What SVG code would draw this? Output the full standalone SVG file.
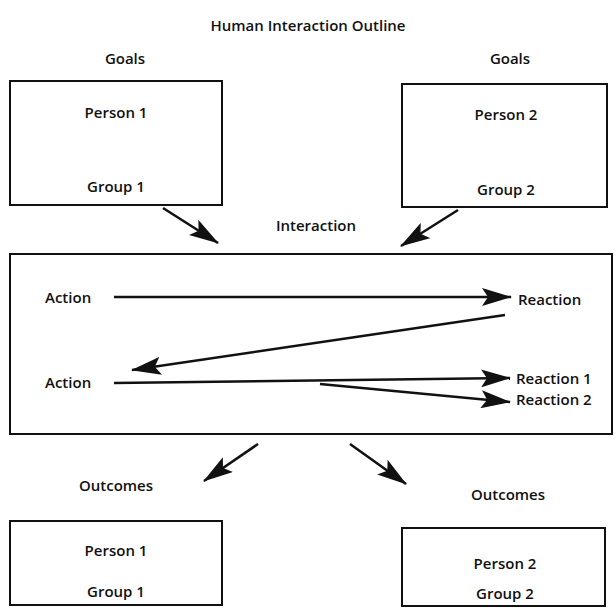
<svg xmlns="http://www.w3.org/2000/svg" width="615" height="608" viewBox="0 0 615 608">
  <style>
    text { font-family: "Open Sans", "Liberation Sans", sans-serif; font-size: 15px; font-weight: 600; fill: #111; }
    .mid { text-anchor: middle; }
    .box { fill: none; stroke: #111; stroke-width: 2; }
    .link { fill: none; stroke: #111; stroke-width: 2.5; marker-end: url(#head); }
  </style>
  <defs>
    <!-- large notched arrowhead, sized in user units -->
    <marker id="head" viewBox="0 0 30 18" refX="29" refY="9" markerWidth="30" markerHeight="18" markerUnits="userSpaceOnUse" orient="auto">
      <path d="M0,0 L30,9 L0,18 L6,9 Z" fill="#111"/>
    </marker>
  </defs>
  <rect width="615" height="608" fill="#fff"/>

  <text class="mid" x="308" y="31">Human Interaction Outline</text>

  <g id="goals1">
    <text class="mid" x="125" y="64">Goals</text>
    <rect class="box" x="10" y="81" width="212" height="124"/>
    <text class="mid" x="116" y="118">Person 1</text>
    <text class="mid" x="116" y="192">Group 1</text>
  </g>

  <g id="goals2">
    <text class="mid" x="510" y="64">Goals</text>
    <rect class="box" x="402" y="84" width="205" height="123"/>
    <text class="mid" x="506" y="120">Person 2</text>
    <text class="mid" x="506" y="195">Group 2</text>
  </g>

  <g id="interaction">
    <text class="mid" x="316" y="231">Interaction</text>
    <rect class="box" x="10" y="254" width="602" height="180"/>
    <text x="45" y="303">Action</text>
    <text x="518" y="305">Reaction</text>
    <text x="45" y="388">Action</text>
    <text x="516" y="384">Reaction 1</text>
    <text x="516" y="405">Reaction 2</text>
  </g>

  <g id="outcomes1">
    <text class="mid" x="116" y="491">Outcomes</text>
    <rect class="box" x="10" y="521" width="212" height="84"/>
    <text class="mid" x="116" y="556">Person 1</text>
    <text class="mid" x="116" y="597">Group 1</text>
  </g>

  <g id="outcomes2">
    <text class="mid" x="508" y="500">Outcomes</text>
    <rect class="box" x="402" y="528" width="203" height="78"/>
    <text class="mid" x="505" y="569">Person 2</text>
    <text class="mid" x="505" y="599">Group 2</text>
  </g>

  <g id="connectors">
    <line class="link" x1="163" y1="208" x2="218" y2="243"/>
    <line class="link" x1="458" y1="210" x2="401" y2="246"/>
    <line class="link" x1="114" y1="297" x2="511" y2="297"/>
    <line class="link" x1="505" y1="315" x2="132" y2="370"/>
    <line class="link" x1="114" y1="383" x2="510" y2="378"/>
    <line class="link" x1="320" y1="384" x2="510" y2="402"/>
    <line class="link" x1="258" y1="444" x2="204" y2="481"/>
    <line class="link" x1="350" y1="444" x2="406" y2="484"/>
  </g>
</svg>
